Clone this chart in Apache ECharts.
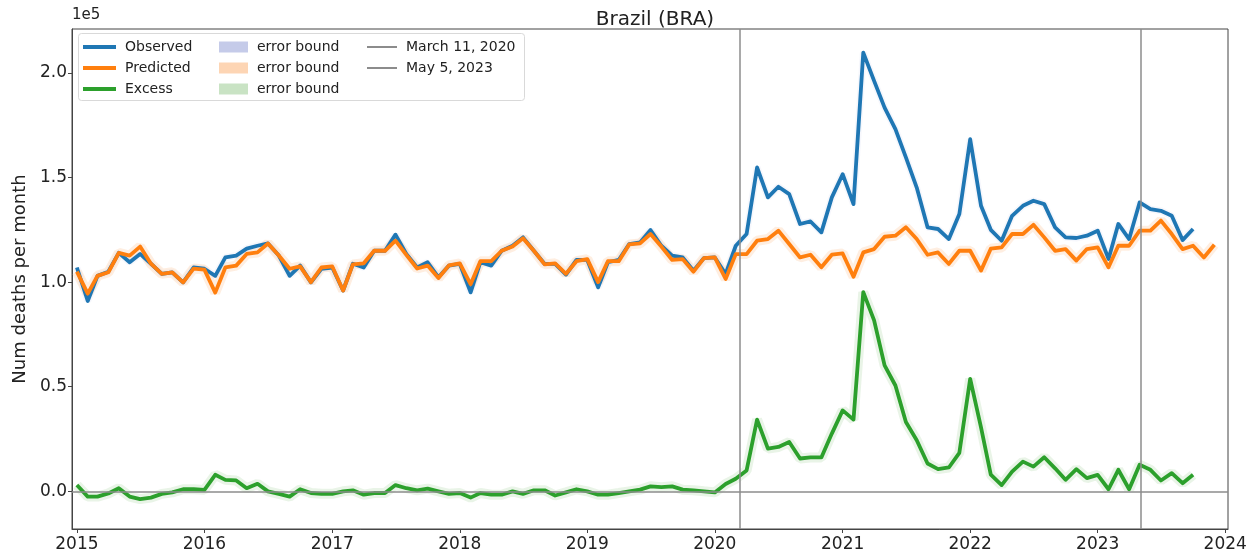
<!DOCTYPE html>
<html>
<head>
<meta charset="utf-8">
<script src="https://cdn.jsdelivr.net/npm/echarts@6/dist/echarts.min.js"></script>
<style>
html,body{margin:0;padding:0;background:#fff;}
#chart{width:1259px;height:560px;}
</style>
</head>
<body>
<div id="chart"></div>
<script>
// Values in units of 1e5 deaths per month, monthly from Jan 2015
const startYear = 2015;
const yearTicks = [2015, 2016, 2017, 2018, 2019, 2020, 2021, 2022, 2023, 2024];
const yTicks = [0, 0.5, 1.0, 1.5, 2.0];

const observed = [
  1.07, 0.91, 1.03, 1.05, 1.14, 1.095, 1.135, 1.088, 1.04, 1.047, 0.999, 1.07,
  1.064, 1.03, 1.118, 1.127, 1.16, 1.174, 1.185, 1.127, 1.03, 1.079, 0.999, 1.064,
  1.07, 0.96, 1.088, 1.07, 1.15, 1.15, 1.227, 1.135, 1.07, 1.095, 1.023, 1.079,
  1.087, 0.951, 1.095, 1.079, 1.15, 1.174, 1.214, 1.15, 1.087, 1.087, 1.036, 1.106,
  1.106, 0.975, 1.095, 1.106, 1.182, 1.19, 1.249, 1.174, 1.127, 1.118, 1.055, 1.115,
  1.118, 1.039, 1.174, 1.23, 1.548, 1.405, 1.456, 1.421, 1.278, 1.29, 1.238, 1.405,
  1.516, 1.373, 2.097, 1.962, 1.834, 1.731, 1.596, 1.452, 1.262, 1.254, 1.206, 1.326,
  1.683, 1.365, 1.25, 1.198, 1.317, 1.365, 1.389, 1.373, 1.262, 1.214, 1.211, 1.222,
  1.246, 1.111, 1.278, 1.206, 1.381, 1.349, 1.341, 1.317, 1.201, 1.254
];

const predicted = [
  1.05, 0.945, 1.03, 1.047, 1.14, 1.127, 1.17, 1.088, 1.04, 1.047, 0.999, 1.065,
  1.06, 0.95, 1.07, 1.079, 1.135, 1.142, 1.185, 1.127, 1.064, 1.075, 1.0, 1.07,
  1.075, 0.96, 1.085, 1.09, 1.15, 1.15, 1.198, 1.13, 1.065, 1.079, 1.02, 1.08,
  1.09, 0.99, 1.1, 1.1, 1.15, 1.17, 1.21, 1.15, 1.085, 1.09, 1.04, 1.1,
  1.11, 1.0, 1.1, 1.1, 1.18, 1.185, 1.23, 1.17, 1.106, 1.11, 1.05, 1.115,
  1.118, 1.015, 1.134, 1.134, 1.198, 1.206, 1.246, 1.182, 1.118, 1.131, 1.071, 1.131,
  1.137, 1.026, 1.142, 1.158, 1.217, 1.222, 1.262, 1.206, 1.131, 1.142, 1.087, 1.15,
  1.15, 1.055, 1.16, 1.166, 1.23, 1.23, 1.274, 1.214, 1.15, 1.158, 1.103, 1.158,
  1.166, 1.071, 1.174, 1.174, 1.246, 1.246, 1.294, 1.23, 1.158, 1.174, 1.118, 1.179
];

const excess = [
  0.03, -0.025, -0.025, -0.01, 0.015, -0.025, -0.037, -0.03, -0.012, -0.005, 0.01, 0.01,
  0.007, 0.079, 0.055, 0.052, 0.015, 0.036, 0.0, -0.012, -0.025, 0.01, -0.008, -0.012,
  -0.012, 0.0, 0.005, -0.016, -0.008, -0.008, 0.03, 0.015, 0.005, 0.013, 0.0, -0.012,
  -0.008, -0.03, -0.008, -0.016, -0.016, 0.0, -0.012, 0.005, 0.005, -0.02, -0.005, 0.01,
  0.0, -0.016, -0.016, -0.008, 0.0, 0.008, 0.024, 0.02, 0.024, 0.008, 0.005, 0.0,
  -0.005, 0.035, 0.06, 0.1, 0.343, 0.204, 0.212, 0.236, 0.157, 0.162, 0.162, 0.276,
  0.387, 0.343, 0.952, 0.817, 0.602, 0.506, 0.331, 0.244, 0.133, 0.106, 0.114, 0.184,
  0.538, 0.306, 0.08, 0.03, 0.094, 0.142, 0.118, 0.163, 0.11, 0.055, 0.106, 0.063,
  0.079, 0.01, 0.103, 0.01, 0.127, 0.103, 0.052, 0.087, 0.039, 0.079
];

const events = [
  { name: 'March 11, 2020', y: 2020, m: 2, d: 11 },
  { name: 'May 5, 2023', y: 2023, m: 4, d: 5 }
];

// month positions (UTC timestamps of the first of each month)
const months = [];
for (let i = 0; i < predicted.length; i++) {
  months.push(Date.UTC(startYear + Math.floor(i / 12), i % 12, 1));
}
const pair = arr => arr.map((v, i) => [months[i], v]);
const yearTs = yearTicks.map(y => Date.UTC(y, 0, 1));

const C_BLUE = '#1f77b4', C_ORANGE = '#ff7f0e', C_GREEN = '#2ca02c';
const FONT = 'DejaVu Sans';

const chart = echarts.init(document.getElementById('chart'), null, { renderer: 'canvas' });

function glow(name, data, color, width, opacity) {
  return {
    name: name, type: 'line', data: pair(data), showSymbol: false, silent: true,
    lineStyle: { color: color, width: width, opacity: opacity }, itemStyle: { color: color },
    z: 1, animation: false
  };
}
function main(name, data, color, z) {
  return {
    name: name, type: 'line', data: pair(data), showSymbol: false, silent: true,
    lineStyle: { color: color, width: 3.8, join: 'round' }, itemStyle: { color: color },
    z: z, animation: false
  };
}

const series = [
  glow('eb1', observed, '#c5cbe9', 7, 0.15),
  glow('eb2', predicted, '#fdd5b4', 10, 0.4),
  glow('eb3', excess, '#c9e3c4', 10, 0.4),
  main('Observed', observed, C_BLUE, 2),
  main('Predicted', predicted, C_ORANGE, 3),
  main('Excess', excess, C_GREEN, 4),
  {
    name: 'zero', type: 'line', data: [], silent: true, z: 5,
    markLine: { symbol: 'none', silent: true, animation: false, label: { show: false },
      lineStyle: { color: '#8c8c8c', width: 1.5, type: 'solid' }, data: [{ yAxis: 0 }] }
  }
];
events.forEach(ev => {
  series.push({
    name: ev.name, type: 'line', data: [], silent: true, z: 5,
    itemStyle: { color: '#8c8c8c' },
    markLine: { symbol: 'none', silent: true, animation: false, label: { show: false },
      lineStyle: { color: '#8c8c8c', width: 1.5, type: 'solid' },
      data: [{ xAxis: Date.UTC(ev.y, ev.m, ev.d) }] }
  });
});

const legendText = { fontFamily: FONT, fontSize: 14, color: '#222', lineHeight: 16, padding: [0, 0, 0, 4] };

const option = {
  animation: false,
  backgroundColor: '#fff',
  title: {
    text: 'Brazil (BRA)', left: 650, top: 5, textAlign: 'center',
    textStyle: { fontFamily: FONT, fontSize: 20, fontWeight: 'normal', color: '#222' }
  },
  grid: {
    left: 72, right: 31, top: 29, bottom: 31, containLabel: false, outerBoundsMode: 'none',
    show: true, borderColor: '#444', borderWidth: 1, backgroundColor: 'transparent'
  },
  legend: [
    {
      left: 83, top: 39, orient: 'vertical', itemGap: 5, padding: 0, z: 60,
      icon: 'rect', itemWidth: 33, itemHeight: 4, selectedMode: false,
      data: ['Observed', 'Predicted', 'Excess'], textStyle: legendText
    },
    {
      left: 219, top: 39, orient: 'vertical', itemGap: 5, padding: 0, z: 60,
      icon: 'rect', itemWidth: 29, itemHeight: 11, selectedMode: false,
      data: [
        { name: 'eb1', itemStyle: { color: '#c5cbe9', opacity: 1 } },
        { name: 'eb2', itemStyle: { color: '#fdd5b4', opacity: 1 } },
        { name: 'eb3', itemStyle: { color: '#c9e3c4', opacity: 1 } }
      ],
      formatter: () => 'error bound', textStyle: legendText
    },
    {
      left: 367, top: 39, orient: 'vertical', itemGap: 5, padding: 0, z: 60,
      icon: 'rect', itemWidth: 30, itemHeight: 2, selectedMode: false,
      data: events.map(e => ({ name: e.name, itemStyle: { color: '#8c8c8c' } })), textStyle: legendText
    }
  ],
  xAxis: {
    type: 'value',
    min: Date.UTC(2014, 11, 18), max: Date.UTC(2024, 0, 9),
    splitLine: { show: false },
    axisLine: { show: true, onZero: false, lineStyle: { color: '#444', width: 1 } },
    axisTick: { show: true, length: 4, lineStyle: { color: '#444' }, customValues: yearTs },
    axisLabel: {
      fontFamily: FONT, fontSize: 17, color: '#222', margin: 7, hideOverlap: false,
      customValues: yearTs,
      formatter: v => String(new Date(v).getUTCFullYear())
    }
  },
  yAxis: {
    type: 'value', min: -0.18, max: 2.21,
    name: 'Num deaths per month', nameLocation: 'middle', nameGap: 40,
    nameTextStyle: { fontFamily: FONT, fontSize: 18, color: '#222' },
    splitLine: { show: false },
    axisLine: { show: true, lineStyle: { color: '#444', width: 1 } },
    axisTick: { show: true, length: 4, lineStyle: { color: '#444' }, customValues: yTicks },
    axisLabel: {
      fontFamily: FONT, fontSize: 17, color: '#222', margin: 5,
      customValues: yTicks, formatter: v => v.toFixed(1)
    }
  },
  graphic: [
    {
      type: 'rect', left: 78, top: 33, z: 50,
      shape: { width: 446, height: 67, r: 3 },
      style: { fill: 'rgba(255,255,255,0.8)', stroke: '#d9d9d9', lineWidth: 1 }
    },
    {
      type: 'text', left: 72, top: 8, z: 50,
      style: { text: '1e5', font: '15px "DejaVu Sans"', fill: '#222' }
    }
  ],
  series: series
};

chart.setOption(option);
</script>
</body>
</html>
